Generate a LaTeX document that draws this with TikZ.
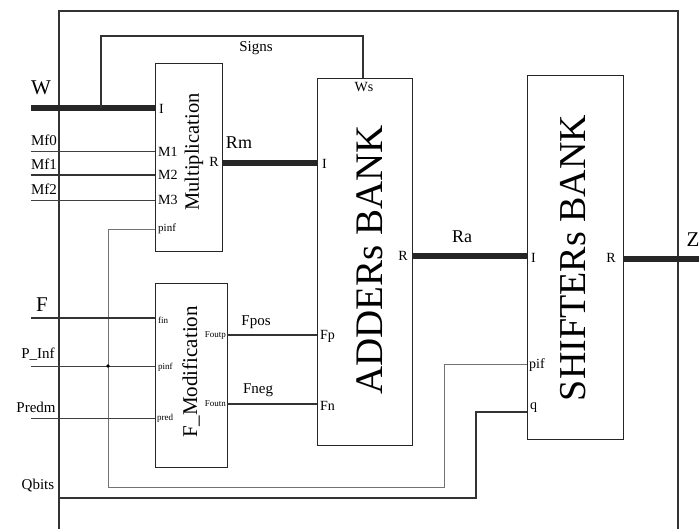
\documentclass[tikz,border=0pt]{standalone}
\usepackage{fontspec}
\setmainfont{Liberation Serif}
\begin{document}
\begin{tikzpicture}[x=1pt,y=-1pt,
  box/.style={draw=black!85,line width=1.3pt,anchor=north west,inner sep=0pt},
  bus/.style={line width=5.5pt,draw=black!85},
  wire/.style={line width=1.4pt,draw=black!80},
  thinw/.style={line width=0.9pt,draw=black!75},
  grayw/.style={line width=0.8pt,draw=black!55},
  big/.style={font=\fontsize{21}{21}\selectfont},
  mid/.style={font=\fontsize{15}{15}\selectfont},
  pin/.style={font=\fontsize{14}{14}\selectfont,inner sep=0pt},
  tiny/.style={font=\fontsize{9}{9}\selectfont,inner sep=0pt}]
\useasboundingbox (0,0) rectangle (699,529);
% frame
\coordinate (fbl) at (59,529);
\coordinate (ftl) at (59,11);
\coordinate (ftr) at (678,11);
\coordinate (fbr) at (678,529);
\draw[wire] (fbl) -- (ftl) -- (ftr) -- (fbr);
% boxes
\node[box,minimum width=67pt,minimum height=188pt] (mult) at (155,63) {};
\node[box,minimum width=72pt,minimum height=184pt] (fmod) at (155,283) {};
\node[box,minimum width=95pt,minimum height=367pt] (add) at (317,78) {};
\node[box,minimum width=96pt,minimum height=364pt] (shf) at (527,75) {};
% rotated titles
\node[rotate=90,font=\fontsize{20.5}{20.5}\selectfont] (multt) at (194,152) {Multiplication};
\node[rotate=90,font=\fontsize{21}{21}\selectfont] (fmodt) at (191,372) {F\_Modification};
\node[rotate=90,font=\fontsize{39}{39}\selectfont] (addt) at (370,260) {ADDERs BANK};
\node[rotate=90,font=\fontsize{38}{38}\selectfont] (shft) at (573,258) {SHIFTERs BANK};
% input coordinates
\coordinate (Win) at (31,108);
\coordinate (M0in) at (31,151);
\coordinate (M1in) at (31,175);
\coordinate (M2in) at (31,200);
\coordinate (Fin) at (31,318);
\coordinate (Pin) at (31,366);
\coordinate (Prin) at (31,418);
\coordinate (Qin) at (59,498);
\coordinate (Zout) at (699,259);
\coordinate (sg) at (101,108);
\coordinate (sgt) at (363,36);
\coordinate (pj) at (108,366);
% wires
\draw[bus] (Win) -- (Win -| mult.west);
\draw[wire] (sg) |- (sgt) -- (sgt |- add.north);
\draw[thinw] (M0in) -- (M0in -| mult.west);
\draw[wire] (M1in) -- (M1in -| mult.west);
\draw[thinw] (M2in) -- (M2in -| mult.west);
\draw[bus] (222,163) -- (317,163);
\draw[grayw] (155,229) -- (108,229) -- (108,487) -- (444,487) -- (444,364) -- (527,364);
\draw[wire] (Fin) -- (Fin -| fmod.west);
\draw[thinw] (Pin) -- (Pin -| fmod.west);
\fill (pj) circle (1.8pt);
\draw[thinw] (Prin) -- (Prin -| fmod.west);
\draw[wire] (Qin) -- (476,498) -- (476,412) -- (527,412);
\draw[wire] (227,335) -- (317,335);
\draw[wire] (227,404) -- (317,404);
\draw[bus] (412,256) -- (527,256);
\draw[bus] (shf.east |- Zout) -- (Zout);
% outside labels
\node[big] (lW) at (41,88) {W};
\node[mid] (lM0) at (44,140) {Mf0};
\node[mid] (lM1) at (44,164) {Mf1};
\node[mid] (lM2) at (44,189) {Mf2};
\node[big] (lF) at (42,305) {F};
\node[mid] (lP) at (38,354) {P\_Inf};
\node[mid] (lPr) at (36,407) {Predm};
\node[mid] (lQ) at (38,486) {Qbits};
\node[mid] (lS) at (256,48) {Signs};
\node[font=\fontsize{18}{18}\selectfont] (lRm) at (239,143) {Rm};
\node[mid] (lFp) at (256,322) {Fpos};
\node[mid] (lFn) at (258,390) {Fneg};
\node[font=\fontsize{18}{18}\selectfont] (lRa) at (462,237) {Ra};
\node[big] (lZ) at (693,240) {Z};
% pin labels
\node[pin,anchor=west] (mI) at (159,109) {I};
\node[pin,anchor=west] (m1) at (158,152) {M1};
\node[pin,anchor=west] (m2) at (158,175) {M2};
\node[pin,anchor=west] (m3) at (158,200) {M3};
\node[pin,anchor=west,font=\fontsize{11}{11}\selectfont] (mp) at (158,229) {pinf};
\node[pin,anchor=east] (mR) at (219,162) {R};
\node[tiny,anchor=west] (ffin) at (158,320) {fin};
\node[tiny,anchor=west] (fp) at (158,367) {pinf};
\node[tiny,anchor=west] (fpr) at (157,418) {pred};
\node[tiny,anchor=east] (fo1) at (226,336) {Foutp};
\node[tiny,anchor=east] (fo2) at (226,404) {Foutn};
\node[pin] (aW) at (364,87) {Ws};
\node[pin,anchor=west] (aI) at (322,164) {I};
\node[pin,anchor=east] (aR) at (408,256) {R};
\node[pin,anchor=west] (aFp) at (320,336) {Fp};
\node[pin,anchor=west] (aFn) at (320,406) {Fn};
\node[pin,anchor=west] (sI) at (531,258) {I};
\node[pin,anchor=east] (sR) at (616,258) {R};
\node[pin,anchor=west] (sp) at (529,365) {pif};
\node[pin,anchor=west] (sq) at (530,408) {q};
\end{tikzpicture}
\end{document}
